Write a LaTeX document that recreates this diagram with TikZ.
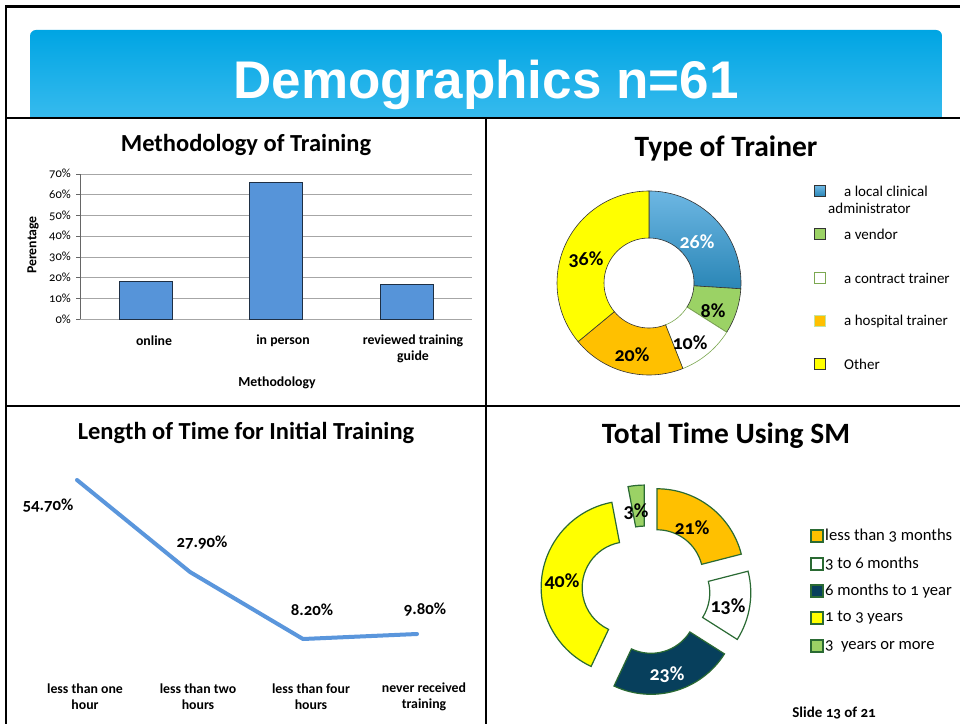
\documentclass[tikz,border=0pt]{standalone}
\usepackage{fontspec}
\setmainfont{Carlito}[Numbers=OldStyle]
\newfontfamily\arialb{Liberation Sans}[BoldFont={* Bold}]
\begin{document}
\begin{tikzpicture}[x=1pt,y=1pt,
  frame/.style={line width=1.3pt,black},
  ctitle/.style={font=\bfseries\fontsize{24.5}{28}\selectfont},
  btitle/.style={font=\bfseries\fontsize{29.5}{33}\selectfont},
  tick/.style={font=\fontsize{12.5}{14}\selectfont, anchor=east, inner sep=1pt},
  catlab/.style={font=\bfseries\fontsize{13.8}{16}\selectfont, align=center, inner sep=0pt},
  bar/.style={fill=barblue, draw=bardark, line width=0.9pt},
  grid/.style={draw=gray!70, line width=0.6pt},
  pct/.style={font=\bfseries\fontsize{20}{22}\selectfont, inner sep=0pt},
  vlab/.style={font=\bfseries\fontsize{16.8}{18}\selectfont, inner sep=0pt},
  legtxt/.style={font=\fontsize{15}{17}\selectfont, anchor=west, inner sep=0pt},
  legtxtb/.style={font=\fontsize{16.6}{18}\selectfont, anchor=west, inner sep=0pt},
  trslice/.style={draw=black!80, line width=0.6pt},
  smslice/.style={draw=smgreen, line width=1.2pt},
  trsq/.style={minimum size=10.5pt, inner sep=0pt, line width=1pt},
  smsq/.style={minimum size=12pt, inner sep=0pt, draw=smgreen, line width=2pt},
]
\definecolor{barblue}{HTML}{5694D9}
\definecolor{bardark}{HTML}{1E2F44}
\definecolor{lineblue}{HTML}{5A96DC}
\definecolor{bantop}{HTML}{00A5E3}
\definecolor{banbot}{HTML}{3DBDEF}
\definecolor{trblueA}{HTML}{6DB7E3}
\definecolor{trblueB}{HTML}{2A86B6}
\definecolor{trgreen}{HTML}{9BD265}
\definecolor{trorange}{HTML}{FFC000}
\definecolor{tryellow}{HTML}{FFFF00}
\definecolor{smnavy}{HTML}{073F5C}
\definecolor{smgreen}{HTML}{2A6A33}

\useasboundingbox (0,0) rectangle (960,724);
\fill[white] (0,0) rectangle (960,724);

% banner
\begin{scope}
  \clip (0,606) rectangle (960,724);
  \path[top color=bantop, bottom color=banbot, rounded corners=6pt] (30,596) rectangle (942,694);
\end{scope}
\node[font=\arialb\bfseries\fontsize{53}{60}\selectfont, text=white, anchor=base, inner sep=0pt] (ttl) at (486,625) {Demographics n=61};

% frame lines
\draw[line width=3pt] (5,717) -- (960,717);
\draw[line width=1.8pt] (6,718) -- (6,0);
\draw[frame] (6,606) -- (960,606);
\draw[frame] (486,606) -- (486,0);
\draw[frame] (6,318) -- (960,318);

% ---------- Panel 1: Methodology of Training
\node[ctitle] (t1) at (246,579) {Methodology of Training};
\foreach \k in {1,...,7} {
  \draw[grid] (80,{405+\k*20.714}) -- (472,{405+\k*20.714});
}
\draw[draw=gray!70, line width=0.6pt] (80,405) -- (472,405);
\draw[draw=gray!80!black, line width=0.6pt] (80,405) -- (80,550);
\foreach \k/\lab in {0/0,1/10,2/20,3/30,4/40,5/50,6/60,7/70} {
  \draw[draw=gray!80!black, line width=0.6pt] (76,{405+\k*20.714}) -- (80,{405+\k*20.714});
  \node[tick] (yt\k) at (72,{405+\k*20.714}) {\lab\%};
}
\draw[bar] (119,405) rectangle (172,442.3);
\draw[bar] (249,405) rectangle (302,541.7);
\draw[bar] (380,405) rectangle (433,439.2);
\node[catlab] (c1) at (154,383) {online};
\node[catlab] (c2) at (283,383) {in person};
\node[catlab] (c3) at (413,375) {reviewed training\\guide};
\node[catlab] (xl) at (277,341) {Methodology};
\node[catlab, rotate=90] (yl) at (33,479) {Perentage};

% ---------- Panel 2: Type of Trainer
\node[btitle] (t2) at (726,576) {Type of Trainer};
\begin{scope}[shift={(649,441)}]
  \path[trslice, top color=trblueA, bottom color=trblueB]
     (90:92) arc[start angle=90, end angle=-3.6, radius=92] -- (-3.6:45) arc[start angle=-3.6, end angle=90, radius=45] -- cycle;
  \path[trslice, fill=trgreen]
     (-3.6:92) arc[start angle=-3.6, end angle=-32.4, radius=92] -- (-32.4:45) arc[start angle=-32.4, end angle=-3.6, radius=45] -- cycle;
  \path[draw=trgreen!80!black, line width=0.6pt, fill=white]
     (-32.4:92) arc[start angle=-32.4, end angle=-68.4, radius=92] -- (-68.4:45) arc[start angle=-68.4, end angle=-32.4, radius=45] -- cycle;
  \path[trslice, fill=trorange]
     (-68.4:92) arc[start angle=-68.4, end angle=-140.4, radius=92] -- (-140.4:45) arc[start angle=-140.4, end angle=-68.4, radius=45] -- cycle;
  \path[trslice, fill=tryellow]
     (-140.4:92) arc[start angle=-140.4, end angle=-270, radius=92] -- (-270:45) arc[start angle=-270, end angle=-140.4, radius=45] -- cycle;
\end{scope}
\node[pct, text=white] (p26) at (697,482) {26\%};
\node[pct] (p8) at (713,413) {8\%};
\node[pct] (p10) at (690,381) {10\%};
\node[pct] (p20) at (632,369) {20\%};
\node[pct] (p36) at (586,464) {36\%};

\node[trsq, draw=black!80, top color=trblueA, bottom color=trblueB] (l1) at (820,533) {};
\node[trsq, draw=black!80, fill=trgreen] (l2) at (820,490) {};
\node[trsq, draw=trgreen!80!black, fill=white] (l3) at (820,446) {};
\node[trsq, draw=trgreen!60, fill=trorange] (l4) at (820,403) {};
\node[trsq, draw=black!80, fill=tryellow] (l5) at (820,360) {};
\node[legtxt] (lt1) at (844,533) {a local clinical};
\node[legtxt] (lt1b) at (828,516) {administrator};
\node[legtxt] (lt2) at (844,490) {a vendor};
\node[legtxt] (lt3) at (844,446) {a contract trainer};
\node[legtxt] (lt4) at (844,403) {a hospital trainer};
\node[legtxt] (lt5) at (844,360) {Other};

% ---------- Panel 3: Length of Time
\node[ctitle] (t3) at (246,291) {Length of Time for Initial Training};
\coordinate (q1) at (77,244);
\coordinate (q2) at (190,152);
\coordinate (q3) at (303,85);
\coordinate (q4) at (417,90);
\draw[lineblue, line width=4pt, line cap=round, line join=round] (q1) -- (q2) -- (q3) -- (q4);
\node[vlab] (v1) at (48,218) {54.70\%};
\node[vlab] (v2) at (202,181) {27.90\%};
\node[vlab] (v3) at (312,114) {8.20\%};
\node[vlab] (v4) at (425,114) {9.80\%};
\node[catlab] (d1) at (85,27) {less than one\\hour};
\node[catlab] (d2) at (198,27) {less than two\\hours};
\node[catlab] (d3) at (311,27) {less than four\\hours};
\node[catlab] (d4) at (424,27) {never received\\training};

% ---------- Panel 4: Total Time Using SM
\node[btitle] (t4) at (726,288) {Total Time Using SM};
\newcommand\smslice[4]{%
  \pgfmathsetmacro\midang{(#1+#2)/2}%
  \begin{scope}[shift={(646,134)}, shift={(\midang:18)}]
    \path[smslice, #3] (#1:87) arc[start angle=#1, end angle=#2, radius=87] -- (#2:46) arc[start angle=#2, end angle=#1, radius=46] -- cycle;
  \end{scope}}
\smslice{90}{14.4}{fill=trorange}{}
\smslice{14.4}{-32.4}{fill=white}{}
\smslice{-32.4}{-115.2}{fill=smnavy}{}
\smslice{-115.2}{-259.2}{fill=tryellow}{}
\smslice{-259.2}{-270}{fill=trgreen}{}
\node[pct] (s21) at (692,196) {21\%};
\node[pct] (s13) at (728,117) {13\%};
\node[pct, text=white] (s23) at (667,49) {23\%};
\node[pct] (s40) at (562,142) {40\%};
\node[pct] (s3) at (636,212) {3\%};

\node[smsq, fill=trorange] (m1) at (817,188) {};
\node[smsq, fill=white] (m2) at (817,160) {};
\node[smsq, fill=smnavy] (m3) at (817,133) {};
\node[smsq, fill=tryellow] (m4) at (817,106) {};
\node[smsq, fill=trgreen] (m5) at (817,78) {};
\node[legtxtb] (mt1) at (825,188) {less than 3 months};
\node[legtxtb] (mt2) at (825,160) {3 to 6 months};
\node[legtxtb] (mt3) at (825,133) {6 months to 1 year};
\node[legtxtb] (mt4) at (825,106) {1 to 3 years};
\node[legtxtb] (mt5) at (825,78) {3\ \ years or more};
\node[font=\bfseries\fontsize{15}{17}\selectfont] (sl) at (834,11) {Slide 13 of 21};
\end{tikzpicture}
\end{document}
